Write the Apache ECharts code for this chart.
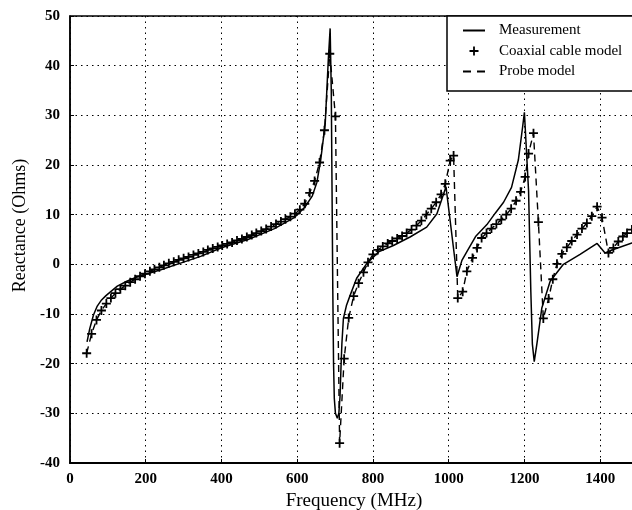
<!DOCTYPE html>
<html>
<head>
    <meta charset="utf-8">
    <title>Reactance</title>
    <script type="text/javascript" src="https://cdn.jsdelivr.net/npm/echarts@6.0.0/dist/echarts.min.js"></script>
    <style>
        html, body { margin: 0; padding: 0; background: #fff; }
    </style>
</head>
<body>
<div id="main" style="width: 632px;height:510px;"></div>
<script type="text/javascript">
    // measured reactance (solid line)
    var measFreq = [45, 52, 62, 72, 82, 95, 106, 125, 150, 175, 200, 240, 290, 345, 398, 470, 540, 592,
        620, 640, 652, 662, 674, 682, 687, 690, 692, 694, 696, 698, 701, 706, 710, 713, 716, 718, 722, 730,
        740, 757, 784, 815, 854, 898, 942, 969, 993, 1022, 1035, 1050, 1071, 1101, 1123, 1145, 1166, 1184,
        1195, 1200, 1211, 1217, 1221, 1226, 1233, 1246, 1268, 1303, 1347, 1392, 1413, 1435, 1484, 1500];
    var measVals = [-15.6, -13.0, -10.2, -8.4, -7.3, -6.3, -5.6, -4.4, -3.4, -2.6, -2.0, -1.1, 0.2, 1.6, 3.3, 5.0, 7.2, 9.4,
        11.5, 13.8, 16.5, 21.0, 28.3, 41.0, 47.5, 35.0, 15.0, -5.0, -20.0, -27.0, -30.0, -31.0, -30.0, -26.7, -20.0, -16.0, -10.9, -8.3,
        -6.2, -2.8, 0.2, 2.5, 3.8, 5.5, 7.5, 10.2, 15.6, -2.5, 0.8, 2.8, 5.6, 8.0, 10.3, 12.5, 15.5, 21.0,
        27.5, 30.6, 14.8, -5.5, -16.0, -19.6, -16.0, -8.8, -3.4, 0.0, 2.0, 4.2, 2.3, 3.0, 4.3, 4.6];

    // coaxial cable model (+ markers)
    var coaxFreq = [44, 57, 70, 83, 96, 108, 120, 133, 146, 159, 172, 185, 198, 211, 223, 236, 248, 261, 274, 287,
        300, 313, 326, 339, 352, 364, 377, 390, 402, 415, 428, 441, 454, 467, 480, 492, 505, 518, 531, 544,
        557, 569, 582, 594, 607, 620, 633, 646, 659, 672, 686, 701, 712, 724, 736, 749, 762, 775, 787, 800,
        813, 826, 839, 851, 864, 877, 889, 902, 915, 928, 941, 954, 967, 980, 991, 1004, 1013, 1024, 1037, 1048,
        1063, 1075, 1087, 1100, 1113, 1126, 1139, 1152, 1165, 1178, 1190, 1202, 1211, 1224, 1237, 1250, 1264, 1275,
        1286, 1299, 1312, 1325, 1339, 1352, 1365, 1378, 1392, 1405, 1422, 1435, 1448, 1460, 1471, 1484, 1497];
    var coaxVals = [-17.9, -14.0, -11.2, -9.3, -7.9, -6.8, -5.8, -5.0, -4.3, -3.6, -3.0, -2.4, -1.9, -1.4, -1.0, -0.6, -0.2, 0.2, 0.5, 0.9,
        1.2, 1.5, 1.9, 2.2, 2.5, 2.9, 3.2, 3.5, 3.8, 4.1, 4.4, 4.8, 5.1, 5.5, 5.9, 6.3, 6.7, 7.1, 7.6, 8.1,
        8.6, 9.1, 9.6, 10.2, 11.0, 12.2, 14.4, 16.8, 20.5, 27.0, 42.4, 29.8, -36.0, -19.0, -10.8, -6.4, -3.8, -1.6, 0.4, 2.0,
        2.9, 3.6, 4.2, 4.7, 5.2, 5.7, 6.3, 7.0, 7.8, 8.8, 10.0, 11.2, 12.5, 14.1, 16.2, 20.9, 21.9, -6.8, -5.5, -1.4,
        1.3, 3.3, 5.3, 6.3, 7.2, 8.1, 9.0, 10.0, 11.2, 12.8, 14.6, 17.6, 22.3, 26.4, 8.5, -10.9, -6.9, -3.0,
        0.1, 2.1, 3.4, 4.7, 6.0, 7.2, 8.3, 9.7, 11.6, 9.4, 2.3, 3.3, 4.6, 5.6, 6.3, 7.0, 7.6];

    // probe model (dashed) runs through the same points as the cable model
    var probeFreq = coaxFreq;
    var probeVals = coaxVals;

    var xTicks = [0, 200, 400, 600, 800, 1000, 1200, 1400];

    function pairs(xs, ys) {
        var out = [];
        for (var i = 0; i < xs.length; i++) {
            out.push([xs[i], ys[i]]);
        }
        return out;
    }

    var serif = 'Liberation Serif';
    var plus = 'path://M4,0L6,0L6,4L10,4L10,6L6,6L6,10L4,10L4,6L0,6L0,4L4,4Z';
    var dotted = { color: '#000', type: [1.5, 4], width: 1 };

    var myChart = echarts.init(document.getElementById('main'));

    var option = {
        animation: false,
        backgroundColor: '#fff',
        grid: {
            left: 70,
            right: -6,
            top: 16,
            bottom: 47,
            // keep the plot box where it is, the right edge runs off the page
            outerBoundsMode: 'none',
            show: true,
            borderColor: '#000',
            borderWidth: 1.5
        },
        legend: {
            orient: 'vertical',
            left: 447,
            top: 16,
            padding: [7, 60, 12, 15],
            itemWidth: 22,
            itemHeight: 9,
            itemGap: 5.5,
            backgroundColor: '#fff',
            borderColor: '#000',
            borderWidth: 1.5,
            textStyle: {
                fontFamily: serif,
                fontSize: 15,
                color: '#000',
                padding: [0, 0, 0, 9]
            },
            data: [
                // hide the marker that line series put in their legend icon
                { name: 'Measurement', itemStyle: { opacity: 0 } },
                { name: 'Coaxial cable model' },
                { name: 'Probe model', itemStyle: { opacity: 0 }, lineStyle: { type: [8, 6] } }
            ]
        },
        xAxis: {
            type: 'value',
            min: 0,
            max: 1500,
            interval: 200,
            name: 'Frequency (MHz)',
            nameLocation: 'middle',
            nameGap: 29,
            nameTextStyle: { fontFamily: serif, fontSize: 19, color: '#000' },
            axisLine: { onZero: false, lineStyle: { color: '#000', width: 2 } },
            axisTick: { inside: true, length: 4, lineStyle: { color: '#000' } },
            axisLabel: {
                fontFamily: serif, fontWeight: 'bold', fontSize: 15, color: '#000', margin: 9,
                showMaxLabel: false,
                formatter: function (v) { return xTicks.indexOf(v) >= 0 ? String(v) : ''; }
            },
            splitLine: { show: true, lineStyle: dotted }
        },
        yAxis: {
            type: 'value',
            min: -40,
            max: 50,
            interval: 10,
            name: 'Reactance (Ohms)',
            nameLocation: 'middle',
            nameGap: 41,
            // the label sits a little above the middle of the axis
            nameTextStyle: { fontFamily: serif, fontSize: 18, color: '#000', padding: [0, 0, 0, 28] },
            axisLine: { show: true, lineStyle: { color: '#000', width: 1.5 } },
            axisTick: { show: true, inside: true, length: 4, lineStyle: { color: '#000' } },
            axisLabel: { fontFamily: serif, fontWeight: 'bold', fontSize: 15, color: '#000', margin: 10 },
            splitLine: { show: true, lineStyle: dotted }
        },
        series: [{
            name: 'Measurement',
            type: 'line',
            symbol: 'none',
            data: pairs(measFreq, measVals),
            lineStyle: { color: '#000', width: 1.5 },
            itemStyle: { color: '#000' },
            z: 3
        }, {
            name: 'Coaxial cable model',
            type: 'scatter',
            symbol: plus,
            symbolSize: 9,
            data: pairs(coaxFreq, coaxVals),
            itemStyle: { color: '#000', opacity: 1 },
            z: 4
        }, {
            name: 'Probe model',
            type: 'line',
            symbol: 'none',
            data: pairs(probeFreq, probeVals),
            lineStyle: { color: '#000', width: 1.4, type: [7, 5] },
            itemStyle: { color: '#000' },
            z: 3
        }]
    };

    myChart.setOption(option);
</script>
</body>
</html>
